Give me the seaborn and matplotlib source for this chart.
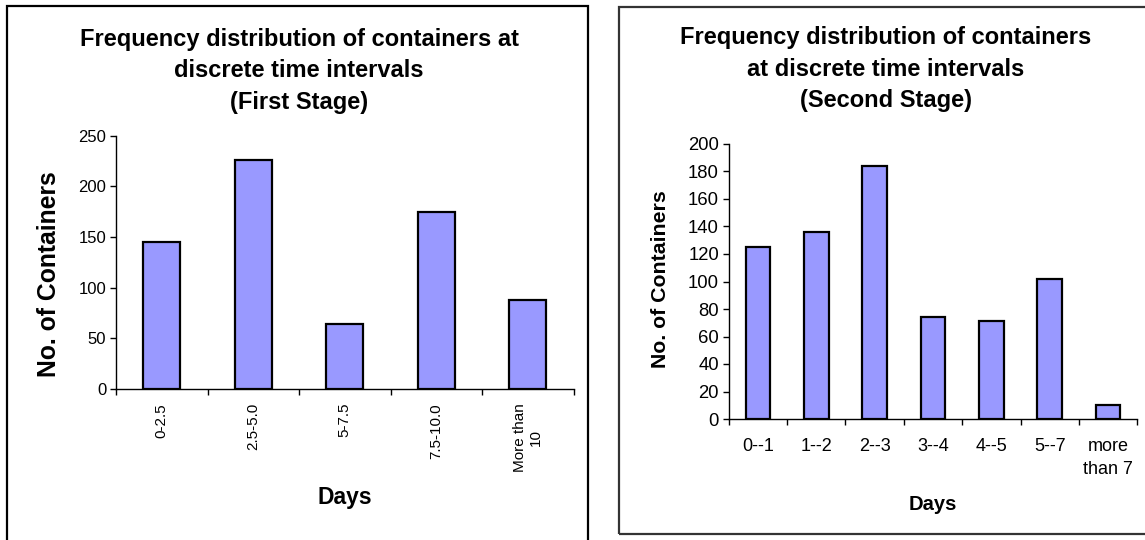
import matplotlib
matplotlib.use("Agg")
import matplotlib.pyplot as plt
from matplotlib.patches import Rectangle
from matplotlib.ticker import FixedLocator
import seaborn as sns

# Frequency counts per time bin
stage1_bins = ["0-2.5", "2.5-5.0", "5-7.5", "7.5-10.0", "More than\n10"]
stage1_counts = [145, 226, 64, 175, 88]
stage2_bins = ["0--1", "1--2", "2--3", "3--4", "4--5", "5--7", "more\nthan 7"]
stage2_counts = [125, 136, 184, 74, 71, 102, 10]

stage1_title = "Frequency distribution of containers at\ndiscrete time intervals\n(First Stage)"
stage2_title = "Frequency distribution of containers\nat discrete time intervals\n(Second Stage)"

sns.set_theme(style="white")
plt.rcParams["font.family"] = ["Liberation Sans", "DejaVu Sans"]
plt.rcParams["text.color"] = "black"
plt.rcParams["axes.labelcolor"] = "black"

W, H = 1145, 540
fig = plt.figure(figsize=(W / 100, H / 100), dpi=100)


def fx(px):
    return px / W


def fy(py):
    return 1 - py / H


def frame(x0, y0, x1, y1, color):
    fig.patches.append(Rectangle((fx(x0), fy(y1)), fx(x1) - fx(x0), fy(y0) - fy(y1),
                                 transform=fig.transFigure, fill=False,
                                 edgecolor=color, linewidth=1.6))


# Chart frames
frame(7, 6, 588, 560, "black")
frame(619, 7, 1160, 534, "#333333")

BAR = "#9999FF"


def style_axes(ax, n, ymax, ystep, xtick_fs, ytick_fs, xpad, rot):
    ax.set_xlim(-0.5, n - 0.5)
    ax.set_ylim(0, ymax)
    ax.set_yticks(range(0, ymax + 1, ystep))
    ax.xaxis.set_minor_locator(FixedLocator([i - 0.5 for i in range(n + 1)]))
    ax.tick_params(axis="x", which="major", length=0, pad=xpad, labelsize=xtick_fs,
                   labelrotation=rot, colors="black")
    ax.tick_params(axis="x", which="minor", length=4, width=1, color="black",
                   direction="out", bottom=True)
    ax.tick_params(axis="y", length=4, width=1, color="black", direction="out",
                   left=True, pad=3, labelsize=ytick_fs, colors="black")
    for s in ("top", "right"):
        ax.spines[s].set_visible(False)
    for s in ("left", "bottom"):
        ax.spines[s].set_color("black")
        ax.spines[s].set_linewidth(1.0)
    ax.grid(False)
    ax.set_facecolor("none")


# First stage
ax1 = fig.add_axes([fx(116), fy(389), fx(573.5) - fx(116), fy(135.7) - fy(389)])
sns.barplot(x=stage1_bins, y=stage1_counts, color=BAR, saturation=1, width=0.4,
            edgecolor="black", linewidth=1.6, ax=ax1)
style_axes(ax1, len(stage1_bins), 250, 50, 11, 12, 10, 90)
for lab in ax1.get_xticklabels():
    lab.set_va("top")
    lab.set_ha("center")
    lab.set_multialignment("center")
ax1.set_ylabel("No. of Containers", fontsize=17.8, fontweight="bold", va="center")
ax1.yaxis.set_label_coords((49 - 116) / 457.5, (389 - 274.5) / 253.3)
ax1.set_xlabel("Days", fontsize=16.5, fontweight="bold", va="center")
ax1.xaxis.set_label_coords(0.5, (389 - 498) / 253.3)
fig.text(fx(299), fy(70.7), stage1_title, ha="center", va="center",
         fontsize=17, fontweight="bold", linespacing=1.47)

# Second stage
ax2 = fig.add_axes([fx(728.7), fy(419), fx(1137.3) - fx(728.7), fy(144) - fy(419)])
sns.barplot(x=stage2_bins, y=stage2_counts, color=BAR, saturation=1, width=0.42,
            edgecolor="black", linewidth=1.6, ax=ax2)
style_axes(ax2, len(stage2_bins), 200, 20, 13, 13.3, 14, 0)
for lab in ax2.get_xticklabels():
    lab.set_va("top")
    lab.set_multialignment("center")
    lab.set_linespacing(1.45)
ax2.set_ylabel("No. of Containers", fontsize=15.3, fontweight="bold", va="center")
ax2.yaxis.set_label_coords((660 - 728.7) / 408.6, (419 - 279.5) / 275)
ax2.set_xlabel("Days", fontsize=14.5, fontweight="bold", va="center")
ax2.xaxis.set_label_coords(0.5, (419 - 504) / 275)
fig.text(fx(886), fy(69), stage2_title, ha="center", va="center",
         fontsize=17, fontweight="bold", linespacing=1.47)

fig.savefig("out.png", dpi=100, facecolor="white")
